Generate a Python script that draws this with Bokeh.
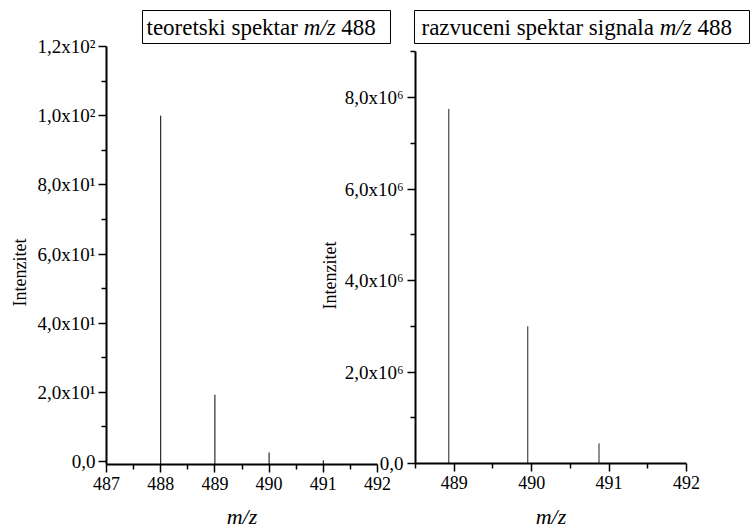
import math
from bokeh.plotting import figure
from bokeh.models import (Range1d, LinearAxis, FixedTicker, ColumnDataSource,
                          Label, BoxAnnotation)
from bokeh.embed import file_html
from bokeh.resources import INLINE

# ---------------- data ----------------
theo_mz = [488, 489, 490, 491]
theo_int = [100.0, 19.3, 2.6, 0.35]

meas_mz = [488.93, 489.95, 490.87]
meas_int = [7.75e6, 3.0e6, 0.44e6]

left_x_ticks = [487, 488, 489, 490, 491, 492]
left_x_minor = [487.5, 488.5, 489.5, 490.5, 491.5]
left_y_ticks = [0, 20, 40, 60, 80, 100, 120]
left_y_minor = [10, 30, 50, 70, 90, 110]
left_y_labels = ["0,0", "2,0x10¹", "4,0x10¹", "6,0x10¹", "8,0x10¹", "1,0x10²", "1,2x10²"]

right_x_ticks = [489, 490, 491, 492]
right_x_minor = [488.5, 489.5, 490.5, 491.5]
right_y_ticks = [0, 2e6, 4e6, 6e6, 8e6]
right_y_minor = [1e6, 3e6, 5e6, 7e6, 9e6]
right_y_labels = ["0,0", "2,0x10⁶", "4,0x10⁶", "6,0x10⁶", "8,0x10⁶"]

left_title = ["teoretski spektar", "m/z", "488"]
right_title = ["razvuceni spektar signala", "m/z", "488"]
x_title = "m/z"
y_title = "Intenzitet"

# ---------------- layout helpers ----------------
W, H = 750, 529
FONT = "Liberation Serif"


def rng(va, pa, vb, pb, plo, phi):
    k = (pb - pa) / (vb - va)
    return va + (plo - pa) / k, va + (phi - pa) / k


lx0, lx1 = rng(487, 106, 492, 377, 0, W)
ly_bot, ly_top = rng(0, 461, 120, 46, H, 0)
rx0, rx1 = rng(488.5, 415, 492, 686, 0, W)
ry_bot, ry_top = rng(0, 463, 8e6, 97, H, 0)
LEFT_BASE = rng(0, 461, 120, 46, 464, 464)[0]

p = figure(width=W, height=H, output_backend="svg", toolbar_location=None,
           x_range=Range1d(lx0, lx1), y_range=Range1d(ly_bot, ly_top),
           x_axis_location=None, y_axis_location=None, min_border=0,
           outline_line_color=None, background_fill_color="white",
           border_fill_color="white")
p.grid.grid_line_color = None
p.extra_x_ranges = {"r": Range1d(rx0, rx1), "px": Range1d(0, W)}
p.extra_y_ranges = {"r": Range1d(ry_bot, ry_top), "px": Range1d(H, 0)}


def style(ax, standoff=3, fs="18px"):
    ax.axis_line_width = 2
    ax.axis_line_color = "black"
    ax.major_tick_line_width = 1.5
    ax.minor_tick_line_width = 1.5
    ax.major_tick_out = 8
    ax.major_tick_in = 0
    ax.minor_tick_out = 5
    ax.minor_tick_in = 0
    ax.major_label_text_font = FONT
    ax.major_label_text_font_size = fs
    ax.major_label_text_color = "black"
    ax.major_label_standoff = standoff


# left chart axes
ax_lx = LinearAxis(ticker=FixedTicker(ticks=left_x_ticks, minor_ticks=left_x_minor),
                   fixed_location=LEFT_BASE, bounds=(487, 492))
style(ax_lx, 4)
p.add_layout(ax_lx, "below")

ax_ly = LinearAxis(ticker=FixedTicker(ticks=left_y_ticks, minor_ticks=left_y_minor),
                   fixed_location=487, bounds=(LEFT_BASE, 120),
                   major_label_overrides=dict(zip(left_y_ticks, left_y_labels)))
style(ax_ly, 3, "19px")
p.add_layout(ax_ly, "left")

# right chart axes
ax_rx = LinearAxis(x_range_name="r", y_range_name="r",
                   ticker=FixedTicker(ticks=right_x_ticks, minor_ticks=right_x_minor),
                   fixed_location=0, bounds=(488.5, 492))
style(ax_rx, 4)
p.add_layout(ax_rx, "below")

ax_ry = LinearAxis(x_range_name="r", y_range_name="r",
                   ticker=FixedTicker(ticks=right_y_ticks, minor_ticks=right_y_minor),
                   fixed_location=488.5, bounds=(0, 9e6),
                   major_label_overrides=dict(zip(right_y_ticks, right_y_labels)))
style(ax_ry, 4, "19px")
p.add_layout(ax_ry, "left")

# bars (sticks)
src_l = ColumnDataSource(dict(x=theo_mz, y=theo_int, y0=[LEFT_BASE] * len(theo_mz)))
p.segment(x0="x", y0="y0", x1="x", y1="y", source=src_l, line_color="black", line_width=1)

src_r = ColumnDataSource(dict(x=meas_mz, y=meas_int, y0=[0] * len(meas_mz)))
p.segment(x0="x", y0="y0", x1="x", y1="y", source=src_r, line_color="#222222",
          line_width=1, x_range_name="r", y_range_name="r")


def add_title(parts, x_start, italic_offset, num_offset, box):
    fs = 23
    common = dict(x_range_name="px", y_range_name="px", text_font=FONT,
                  text_font_size=f"{fs}px", text_baseline="middle",
                  text_align="left", text_color="black")
    ty = 27
    p.add_layout(Label(x=x_start, y=ty, text=parts[0], **common))
    p.add_layout(Label(x=x_start + italic_offset, y=ty, text=parts[1],
                       text_font_style="italic", **common))
    p.add_layout(Label(x=x_start + num_offset, y=ty, text=parts[2], **common))
    l, r, t, b = box
    p.add_layout(BoxAnnotation(left=l, right=r, top=t, bottom=b,
                               x_range_name="px", y_range_name="px",
                               fill_alpha=0, fill_color=None,
                               line_color="black", line_alpha=1.0, line_width=1))


k = 23 / 1000.0
# widths in Times/Liberation Serif units: "teoretski spektar " = 6832, "m/z" italic = 1389, space = 250
add_title(left_title, 146, 6832 * k, (6832 + 1389 + 250) * k, (142, 390, 10, 43))
# "razvuceni spektar signala " = 10358
add_title(right_title, 421, 10358 * k, (10358 + 1389 + 250) * k, (414, 749, 10, 43))

# axis titles
for cx in (241.5, 550.5):
    p.add_layout(Label(x=cx, y=516, text=x_title, x_range_name="px", y_range_name="px",
                       text_font=FONT, text_font_size="22px", text_font_style="italic",
                       text_align="center", text_baseline="middle", text_color="black"))
for (cx, cy) in ((19, 272), (329, 275)):
    p.add_layout(Label(x=cx, y=cy, text=y_title, x_range_name="px", y_range_name="px",
                       angle=math.pi / 2, text_font=FONT, text_font_size="18px",
                       text_align="center", text_baseline="middle", text_color="black"))

open("out.html", "w").write(file_html(p, INLINE))
